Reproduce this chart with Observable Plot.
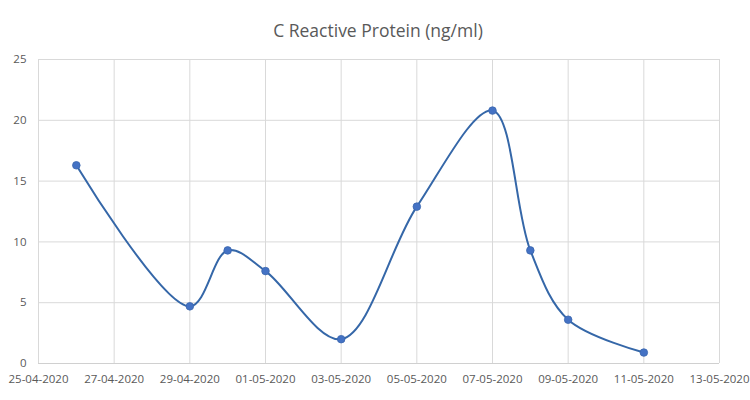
<!DOCTYPE html>
<html>
<head>
<meta charset="utf-8">
<script src="https://cdn.jsdelivr.net/npm/d3@7"></script>
<script src="https://cdn.jsdelivr.net/npm/@observablehq/plot@0.6"></script>
<style>
  html, body { margin: 0; padding: 0; background: #fff; }
  #title { height: 45px; line-height: 30px; padding-top: 15px; text-align: center; font-family: "Open Sans", sans-serif; font-size: 17.5px; color: #595959; box-sizing: border-box; padding-left: 6px; }
</style>
</head>
<body>
<div id="title">C Reactive Protein (ng/ml)</div>
<div id="chart"></div>
<script>
const dates = ["2020-04-26","2020-04-29","2020-04-30","2020-05-01","2020-05-03","2020-05-05","2020-05-07","2020-05-08","2020-05-09","2020-05-11"];
const crp = [16.3, 4.7, 9.3, 7.6, 2.0, 12.9, 20.8, 9.3, 3.6, 0.9];
const xTickLabels = ["2020-04-25","2020-04-27","2020-04-29","2020-05-01","2020-05-03","2020-05-05","2020-05-07","2020-05-09","2020-05-11","2020-05-13"];
const yTicks = [0, 5, 10, 15, 20, 25];

const data = dates.map((d, i) => ({date: new Date(d + "T00:00:00Z"), value: crp[i]}));
const xTicks = xTickLabels.map(d => new Date(d + "T00:00:00Z"));
const fmt = d3.utcFormat("%d-%m-%Y");

const chart = Plot.plot({
  width: 750,
  height: 355,
  marginTop: 14,
  marginLeft: 38,
  marginRight: 31,
  marginBottom: 37,
  style: {fontFamily: "Open Sans, sans-serif", fontSize: "11.5px", color: "#595959"},
  x: {type: "utc", domain: [xTicks[0], xTicks[xTicks.length - 1]], ticks: xTicks, tickFormat: fmt, label: null, tickSize: 0, tickPadding: 11},
  y: {domain: [0, 25], ticks: yTicks, label: null, tickSize: 0, tickPadding: 12},
  marks: [
    Plot.gridX(xTicks, {stroke: "#d9d9d9", strokeOpacity: 1, strokeWidth: 1}),
    Plot.gridY(yTicks, {stroke: "#d9d9d9", strokeOpacity: 1, strokeWidth: 1}),
    Plot.ruleY([0], {stroke: "#d0d0d0", strokeWidth: 1.2}),
    Plot.line(data, {x: "date", y: "value", curve: "catmull-rom", stroke: "#3567a8", strokeWidth: 2}),
    Plot.dot(data, {x: "date", y: "value", r: 3.8, fill: "#4472c4", stroke: "#3a66ad", strokeWidth: 0.8})
  ]
});
document.getElementById("chart").appendChild(chart);
</script>
</body>
</html>
